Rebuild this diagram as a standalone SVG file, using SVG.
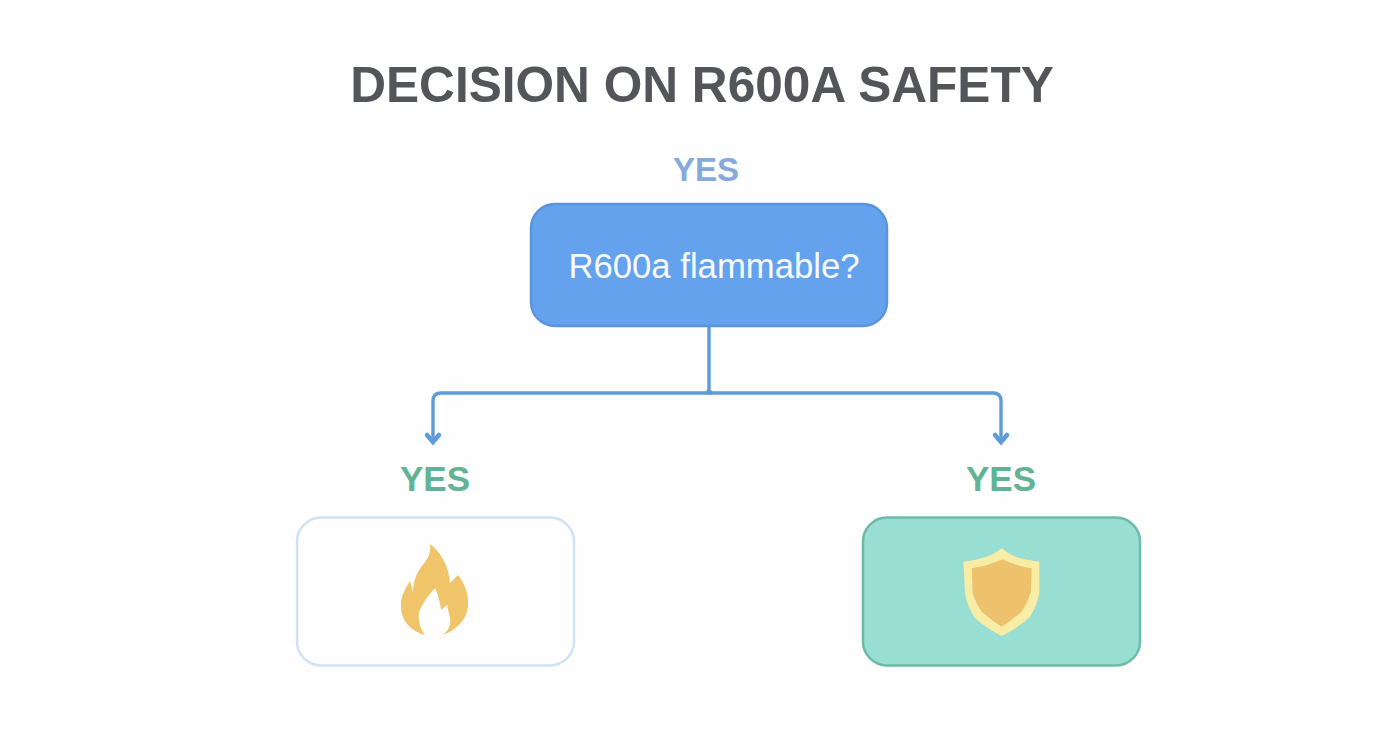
<svg xmlns="http://www.w3.org/2000/svg" width="1392" height="752" viewBox="0 0 1392 752">
<style>
text{font-family:"Liberation Sans",Arial,sans-serif;text-anchor:middle}
.lbl{font-size:35px;font-weight:700;fill:#62b394}
.conn{fill:none;stroke:#5f9bdb;stroke-width:3.4;stroke-linecap:round;stroke-linejoin:round}
.head{fill:none;stroke:#5f9bdb;stroke-width:4.500;stroke-linecap:round;stroke-linejoin:miter}
</style>
<rect width="1392" height="752" fill="#fefefe"/>
<text id="title" x="702" y="102" font-size="49.600" font-weight="700" fill="#545559">DECISION ON R600A SAFETY</text>
<g id="connectors">
<path class="conn" d="M709 327V392"/>
<path class="conn" d="M709 393H441Q433 393 433 401V442"/>
<path class="conn" d="M709 393H993Q1001 393 1001 401V442"/>
<path class="head" d="M427 435L433 442L439 435"/>
<path class="head" d="M995 435L1001 442L1007 435"/>
<path fill="#5f9bdb" d="M704 393L709 388L714 393L709 395Z"/>
</g>
<g id="node-question">
<text x="706" y="181" font-size="33" font-weight="700" fill="#86a9dc">YES</text>
<rect x="531" y="204" width="356" height="122" rx="24" fill="#65a2ee" stroke="#5a94da" stroke-width="2.5"/>
<text x="714" y="278" font-size="34.700" fill="#f7fbff">R600a flammable?</text>
</g>
<g id="node-flame">
<text class="lbl" x="435" y="491">YES</text>
<rect x="297" y="517.500" width="277" height="148" rx="24" fill="#fefefe" stroke="#d1e2f5" stroke-width="2.500"/>
<path fill="#f0c468" d="M430 544C440 551 449 566 450 583L458 575C465 584 469 595 468 606C467 620 456 630 443 635C449 630 451 625 450 618C449 613 448 609 447 605L441 610C440 602 438 594 435 588C430 594 426 598 423 604C419 610 418 615 419 621C420 627 422 631 425 635C411 631 402 622 401 608C400 597 405 589 410 581L413 592C413 580 418 570 425 562C429 557 431 551 430 544Z"/>
</g>
<g id="node-shield">
<text class="lbl" x="1001" y="491">YES</text>
<rect x="863" y="517.500" width="277" height="148" rx="24" fill="#98ded2" stroke="#6dbba6" stroke-width="2.500"/>
<path fill="#f8eda5" d="M1001.700 548.300Q1008 554 1016.700 557.300Q1028 560.500 1039.300 561.700L1039.300 593.300Q1037 606 1030 616.700Q1018 628 1001.700 636Q986 628 975 618.300Q967 606 965 593.300L963.300 561.700Q975 560.500 986.700 556.700Q995 554 1001.700 548.300Z"/>
<path fill="#eec16c" d="M1002.700 559.300Q1016 566 1031.700 568.300L1031 591.700Q1028 602 1021.700 611.700Q1012 620 1001.700 626.700Q991 620 981.700 611.700Q975 602 972.700 593.300L971.700 568.300Q988 566 1002.700 559.300Z"/>
</g>
</svg>
